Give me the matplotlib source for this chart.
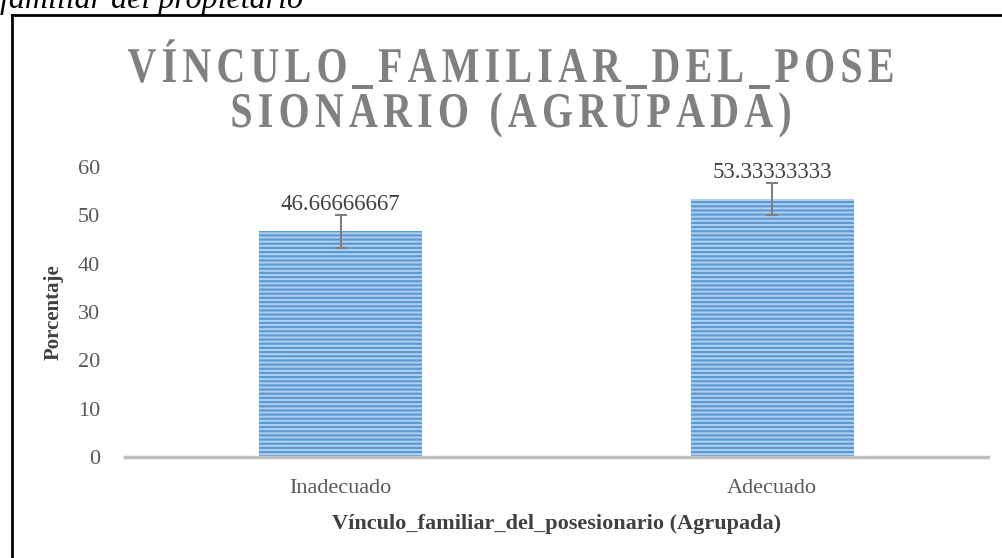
import numpy as np
import matplotlib.pyplot as plt
import matplotlib as mpl
from matplotlib.textpath import TextPath, text_to_path
from matplotlib.font_manager import FontProperties
from matplotlib.patches import PathPatch
from matplotlib.transforms import Affine2D

plt.rcParams['font.family'] = ['Liberation Serif', 'DejaVu Serif']
plt.rcParams['hatch.linewidth'] = 1.6

# datos
categorias = ["Inadecuado", "Adecuado"]
porcentajes = [46.66666667, 53.33333333]
errores = [3.333, 3.333]
etiquetas = ["46.66666667", "53.33333333"]
titulo = ["VÍNCULO_FAMILIAR_DEL_POSE", "SIONARIO (AGRUPADA)"]

W, H = 1002, 558
fig = plt.figure(figsize=(W / 100, H / 100), dpi=100)
ax = fig.add_axes([125 / W, 1 - 457 / H, 863 / W, 290 / H])

x = np.arange(len(categorias))
ax.bar(x, porcentajes, width=0.378, color='#B4D0EE', edgecolor='#5B9BD5',
       hatch='----', linewidth=0, zorder=2)
ax.errorbar(x, porcentajes, yerr=errores, fmt='none', ecolor='#7F7F7F',
            elinewidth=1.5, capsize=4.5, capthick=1.5, zorder=3)
for xi, v, lab in zip(x, porcentajes, etiquetas):
    ax.text(xi, v + 5.6, lab, ha='center', va='center', fontsize=16.5, color='#404040')

ax.set_xlim(-0.5, 1.5)
ax.set_ylim(0, 60)
ax.set_yticks(range(0, 61, 10))
ax.set_xticks(x)
ax.set_xticklabels(categorias)
ax.tick_params(axis='both', length=0, labelsize=16, labelcolor='#595959')
ax.tick_params(axis='y', pad=18)
ax.tick_params(axis='x', pad=16)
for s in ['top', 'right', 'left']:
    ax.spines[s].set_visible(False)
ax.spines['bottom'].set_color('#BFBFBF')
ax.spines['bottom'].set_linewidth(2.5)

ax.set_ylabel("Porcentaje", fontsize=15, fontweight='bold', color='#404040', labelpad=10)
ax.set_xlabel("Vínculo_familiar_del_posesionario (Agrupada)", fontsize=16,
              fontweight='bold', color='#404040', labelpad=11)

# titulo: letras algo estrechas y separadas
fp = FontProperties(family='Liberation Serif', weight='bold', size=50)
sx = 0.80
objetivo = 767
bases = [H - 82, H - 127]
tracking = None
pix = Affine2D().scale(1 / W, 1 / H) + fig.transFigure
for linea, yb in zip(titulo, bases):
    anchos = []
    for ch in linea:
        w, _, _ = text_to_path.get_text_width_height_descent(ch, fp, ismath=False)
        anchos.append(w * sx)
    if tracking is None:
        tracking = (objetivo - sum(anchos)) / (len(linea) - 1)
    total = sum(anchos) + tracking * (len(linea) - 1)
    xpos = 511 - total / 2
    for ch, w in zip(linea, anchos):
        if ch != ' ':
            tp = TextPath((0, 0), ch, prop=fp)
            tr = Affine2D().scale(sx, 1).translate(xpos, yb) + pix
            fig.add_artist(PathPatch(tp, transform=tr, facecolor='#808080',
                                     edgecolor='none'))
        xpos += w + tracking

# texto cortado arriba y marco
fig.text(0.0, 1 - 8 / H, "familiar del propietario", fontsize=23, style='italic',
         color='black', ha='left', va='baseline')
fig.add_artist(mpl.lines.Line2D([12 / W, 1.0], [1 - 15 / H, 1 - 15 / H],
                                color='black', linewidth=2, transform=fig.transFigure))
fig.add_artist(mpl.lines.Line2D([12 / W, 12 / W], [0, 1 - 15 / H],
                                color='black', linewidth=2, transform=fig.transFigure))

fig.savefig("out.png", dpi=100)
